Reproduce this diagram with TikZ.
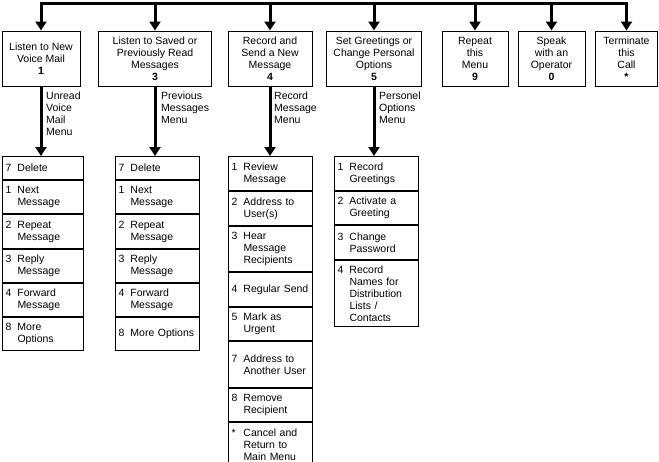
\documentclass[tikz,border=0pt]{standalone}
\usepackage{fontspec}
\setmainfont{Liberation Sans}
\usetikzlibrary{positioning, arrows.meta}

\newcommand{\menuentry}[2]{\makebox[12pt][l]{#1}\parbox[t]{\dimexpr\hsize-12pt}{\raggedright #2}}

\tikzset{
  topbox/.style={draw, line width=1pt, minimum height=55pt, inner sep=1pt, align=center},
  entry/.style={draw, line width=1pt, anchor=north west, inner xsep=3pt, inner ysep=0pt, align=left},
  link/.style={line width=3pt, -{Triangle[length=9pt, width=11pt]}},
  menulabel/.style={anchor=north west, align=left, inner sep=0pt},
}

\begin{document}
\begin{tikzpicture}[x=1pt, y=-1pt, font=\fontsize{10.5}{12}\selectfont]
                \useasboundingbox (0,0) rectangle (659,461);
                \coordinate (bar) at (0,3);

                \node[topbox, minimum width=78pt] (t1) at (41,58.5) {Listen to New\\Voice Mail\\\textbf{1}};
                \node[topbox, minimum width=113pt] (t3) at (155,58.5) {Listen to Saved or\\Previously Read\\Messages\\\textbf{3}};
                \node[topbox, minimum width=84pt] (t4) at (270,58.5) {Record and\\Send a New\\Message\\\textbf{4}};
                \node[topbox, minimum width=95pt] (t5) at (374,58.5) {Set Greetings or\\Change Personal\\Options\\\textbf{5}};
                \node[topbox, minimum width=66pt] (t9) at (475,58.5) {Repeat\\this\\Menu\\\textbf{9}};
                \node[topbox, minimum width=67pt] (t0) at (551.5,58.5) {Speak\\with an\\Operator\\\textbf{0}};
                \node[topbox, minimum width=62pt] (ts) at (626.5,58.5) {Terminate\\this\\Call\\\textbf{*}};

                \draw[line width=3pt] (bar -| t1) -- (bar -| ts);
                \foreach \t in {t1, t3, t4, t5, t9, t0, ts}
                    \draw[link] ([yshift=1.5pt]bar -| \t) -- (\t);

                % unread voice mail menu
                \node[entry, text width=75pt, minimum height=23pt] (a1) at (2,156) {\menuentry{7}{Delete}};
                \node[entry, text width=75pt, minimum height=33pt, below=0pt of a1] (a2) {\menuentry{1}{Next Message}};
                \node[entry, text width=75pt, minimum height=34pt, below=0pt of a2] (a3) {\menuentry{2}{Repeat Message}};
                \node[entry, text width=75pt, minimum height=33pt, below=0pt of a3] (a4) {\menuentry{3}{Reply Message}};
                \node[entry, text width=75pt, minimum height=33pt, below=0pt of a4] (a5) {\menuentry{4}{Forward Message}};
                \node[entry, text width=75pt, minimum height=33pt, below=0pt of a5] (a6) {\menuentry{8}{More Options}};

                % previous messages menu
                \node[entry, text width=78pt, minimum height=23pt] (b1) at (115,156) {\menuentry{7}{Delete}};
                \node[entry, text width=78pt, minimum height=33pt, below=0pt of b1] (b2) {\menuentry{1}{Next Message}};
                \node[entry, text width=78pt, minimum height=34pt, below=0pt of b2] (b3) {\menuentry{2}{Repeat Message}};
                \node[entry, text width=78pt, minimum height=33pt, below=0pt of b3] (b4) {\menuentry{3}{Reply Message}};
                \node[entry, text width=78pt, minimum height=33pt, below=0pt of b4] (b5) {\menuentry{4}{Forward Message}};
                \node[entry, text width=78pt, minimum height=33pt, below=0pt of b5] (b6) {\menuentry{8}{More Options}};

                % record message menu
                \node[entry, text width=78pt, minimum height=34pt] (c1) at (228,156) {\menuentry{1}{Review Message}};
                \node[entry, text width=78pt, minimum height=34pt, below=0pt of c1] (c2) {\menuentry{2}{Address to User(s)}};
                \node[entry, text width=78pt, minimum height=45pt, below=0pt of c2] (c3) {\menuentry{3}{Hear Message Recipients}};
                \node[entry, text width=78pt, minimum height=34pt, below=0pt of c3] (c4) {\menuentry{4}{Regular Send}};
                \node[entry, text width=78pt, minimum height=33pt, below=0pt of c4] (c5) {\menuentry{5}{Mark as Urgent}};
                \node[entry, text width=78pt, minimum height=46pt, below=0pt of c5] (c6) {\menuentry{7}{Address to Another User}};
                \node[entry, text width=78pt, minimum height=33pt, below=0pt of c6] (c7) {\menuentry{8}{Remove Recipient}};
                \node[entry, text width=78pt, minimum height=44pt, below=0pt of c7] (c8) {\menuentry{*}{Cancel and Return to Main Menu}};

                % personel options menu
                \node[entry, text width=78pt, minimum height=34pt] (d1) at (334,156) {\menuentry{1}{Record Greetings}};
                \node[entry, text width=78pt, minimum height=33pt, below=0pt of d1] (d2) {\menuentry{2}{Activate a Greeting}};
                \node[entry, text width=78pt, minimum height=34pt, below=0pt of d2] (d3) {\menuentry{3}{Change Password}};
                \node[entry, text width=78pt, minimum height=66pt, below=0pt of d3] (d4) {\menuentry{4}{Record Names for Distribution Lists / Contacts}};

                \draw[link] (t1) -- (t1 |- a1.north);
                \draw[link] (t3 |- t1.south) -- (t3 |- b1.north);
                \draw[link] (t4) -- (t4 |- c1.north);
                \draw[link] (t5) -- (t5 |- d1.north);

                \node[menulabel] at (46,92) {Unread\\Voice\\Mail\\Menu};
                \node[menulabel] at (161,92) {Previous\\Messages\\Menu};
                \node[menulabel] at (274,92) {Record\\Message\\Menu};
                \node[menulabel] at (379,92) {Personel\\Options\\Menu};
\end{tikzpicture}
\end{document}
